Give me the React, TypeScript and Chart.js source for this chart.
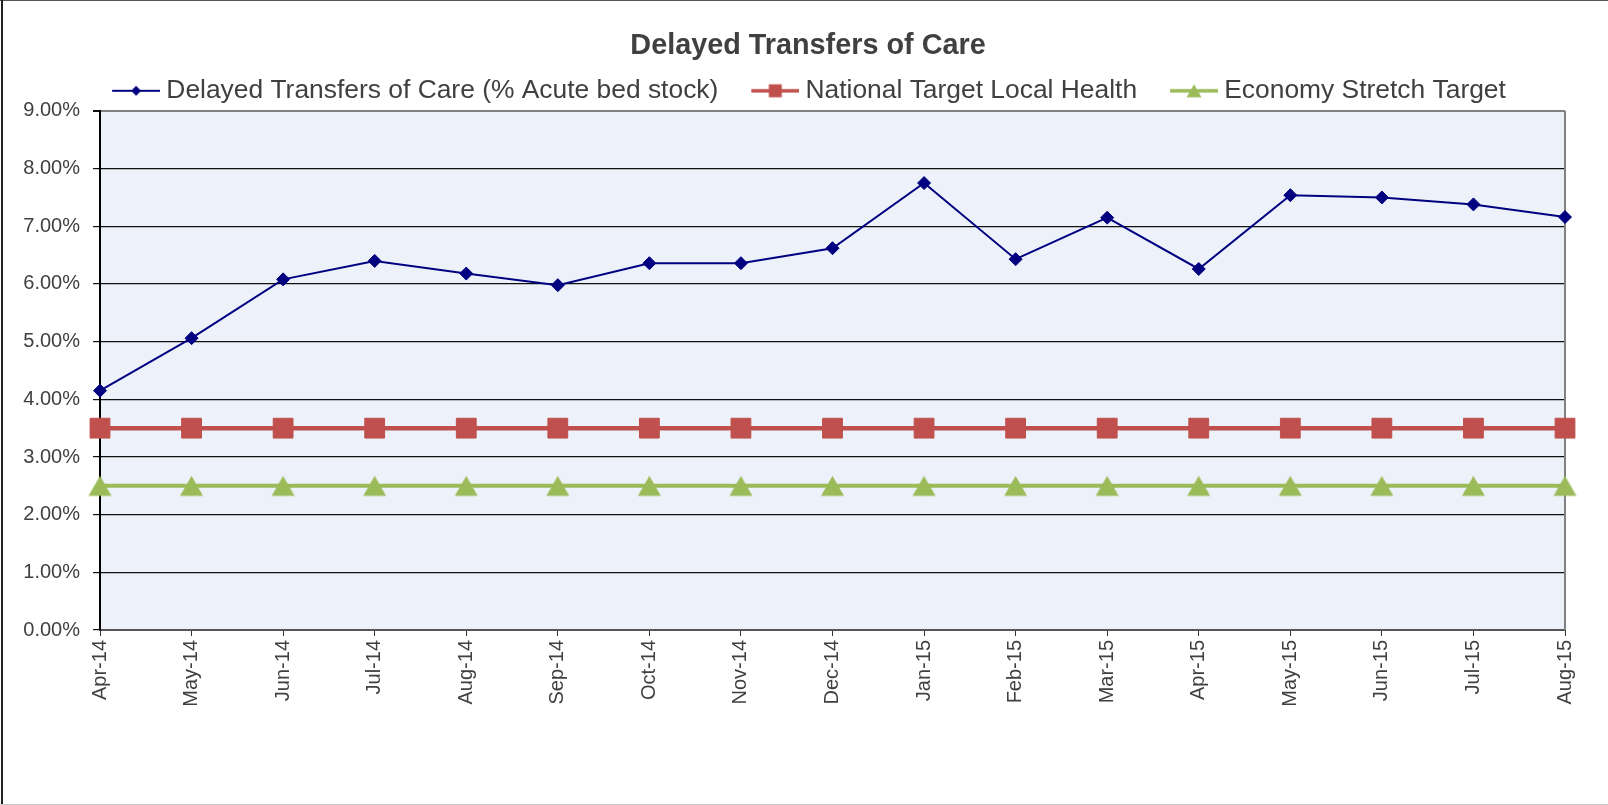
import React, { useEffect, useRef } from 'react';
import { Chart, registerables } from 'chart.js';

Chart.register(...registerables);

const months = [
  'Apr-14', 'May-14', 'Jun-14', 'Jul-14', 'Aug-14', 'Sep-14', 'Oct-14', 'Nov-14', 'Dec-14',
  'Jan-15', 'Feb-15', 'Mar-15', 'Apr-15', 'May-15', 'Jun-15', 'Jul-15', 'Aug-15',
];
const delayedTransfers = [4.15, 5.06, 6.08, 6.40, 6.18, 5.98, 6.36, 6.36, 6.62, 7.75, 6.43, 7.15, 6.26, 7.54, 7.50, 7.38, 7.16];
const nationalTarget = [3.5, 3.5, 3.5, 3.5, 3.5, 3.5, 3.5, 3.5, 3.5, 3.5, 3.5, 3.5, 3.5, 3.5, 3.5, 3.5, 3.5];
const economyTarget = [2.5, 2.5, 2.5, 2.5, 2.5, 2.5, 2.5, 2.5, 2.5, 2.5, 2.5, 2.5, 2.5, 2.5, 2.5, 2.5, 2.5];
const seriesNames = [
  'Delayed Transfers of Care (% Acute bed stock)',
  'National Target Local Health',
  'Economy Stretch Target',
];
const chartTitle = 'Delayed Transfers of Care';

const NAVY = '#000080';
const RED = '#C0504D';
const GREEN = '#9BBB59';
const TEXT = '#404040';
const FONT = "'Liberation Sans', Arial, sans-serif";

function drawShape(ctx: CanvasRenderingContext2D, shape: string, cx: number, cy: number, s: number) {
  ctx.beginPath();
  if (shape === 'diamond') {
    ctx.moveTo(cx, cy - s);
    ctx.lineTo(cx + s, cy);
    ctx.lineTo(cx, cy + s);
    ctx.lineTo(cx - s, cy);
    ctx.closePath();
  } else if (shape === 'square') {
    ctx.rect(cx - s, cy - s, 2 * s, 2 * s);
  } else {
    // triangle centred on its bounding box
    const h = s * 1.75;
    ctx.moveTo(cx, cy - h / 2);
    ctx.lineTo(cx + s, cy + h / 2);
    ctx.lineTo(cx - s, cy + h / 2);
    ctx.closePath();
  }
  ctx.fill();
}

function makeIcon(color: string, lineWidth: number, shape: string, s: number) {
  const c = document.createElement('canvas');
  c.width = 79;
  c.height = 26;
  const ctx = c.getContext('2d')!;
  ctx.strokeStyle = color;
  ctx.lineWidth = lineWidth;
  ctx.beginPath();
  ctx.moveTo(31, 13);
  ctx.lineTo(79, 13);
  ctx.stroke();
  ctx.fillStyle = color;
  drawShape(ctx, shape, 55, 13, s);
  return c;
}

function makeMarker(color: string, shape: string, s: number) {
  const c = document.createElement('canvas');
  const size = Math.ceil(2 * s + 2);
  c.width = size;
  c.height = size;
  const ctx = c.getContext('2d')!;
  ctx.fillStyle = color;
  drawShape(ctx, shape, size / 2, size / 2, s);
  return c;
}

const bgPlugin = {
  id: 'bgPlugin',
  afterLayout(chart: any) {
    if (chart.legend) {
      chart.legend.left -= 11;
      chart.legend.right -= 11;
      chart.legend.top += 3;
      chart.legend.bottom += 3;
    }
  },
  beforeDraw(chart: any) {
    const { ctx, chartArea } = chart;
    ctx.save();
    ctx.fillStyle = '#EDF2FA';
    ctx.fillRect(chartArea.left, chartArea.top, chartArea.right - chartArea.left, chartArea.bottom - chartArea.top);
    ctx.restore();
  },
  beforeDatasetsDraw(chart: any) {
    const { ctx, chartArea } = chart;
    ctx.save();
    ctx.strokeStyle = '#808080';
    ctx.lineWidth = 2;
    ctx.beginPath();
    ctx.moveTo(chartArea.right, chartArea.top);
    ctx.lineTo(chartArea.right, chartArea.bottom);
    ctx.stroke();
    ctx.restore();
  },
  afterDraw(chart: any) {
    const { ctx, width, height } = chart;
    ctx.save();
    ctx.fillStyle = '#555555';
    ctx.fillRect(0, 0, width, 1);
    ctx.fillStyle = '#222222';
    ctx.fillRect(1, 0, 2, height);
    ctx.fillStyle = '#c8c8c8';
    ctx.fillRect(0, height - 1, width, 1);
    ctx.restore();
  },
};

export default function App() {
  const ref = useRef<HTMLCanvasElement>(null);
  useEffect(() => {
    if (!ref.current) return;
    const icons = [
      makeIcon(NAVY, 2, 'diamond', 5),
      makeIcon(RED, 3.5, 'square', 6.5),
      makeIcon(GREEN, 3.5, 'triangle', 7.5),
    ];
    const triangleMarker = makeMarker(GREEN, 'triangle', 11.5);
    const chart = new Chart(ref.current, {
      type: 'line',
      data: {
        labels: months,
        datasets: [
          {
            label: seriesNames[0],
            data: delayedTransfers,
            borderColor: NAVY,
            backgroundColor: NAVY,
            borderWidth: 2,
            pointStyle: 'rectRot',
            pointRadius: 6.5,
            pointBorderWidth: 1,
            tension: 0,
            clip: false as any,
          },
          {
            label: seriesNames[1],
            data: nationalTarget,
            borderColor: RED,
            backgroundColor: RED,
            borderWidth: 4.5,
            pointStyle: 'rect',
            pointRadius: 14,
            pointBorderWidth: 1,
            tension: 0,
            clip: false as any,
          },
          {
            label: seriesNames[2],
            data: economyTarget,
            borderColor: GREEN,
            backgroundColor: GREEN,
            borderWidth: 4,
            pointStyle: triangleMarker as any,
            pointRadius: 11.5,
            tension: 0,
            clip: false as any,
          },
        ],
      },
      options: {
        responsive: false,
        animation: false,
        layout: { padding: { left: 18, right: 10, top: 0, bottom: 100 } },
        plugins: {
          title: {
            display: true,
            text: chartTitle,
            color: TEXT,
            font: { family: FONT, size: 28.8, weight: 'bold', lineHeight: 1.2 },
            padding: { top: 29, bottom: 2 },
          },
          legend: {
            display: true,
            labels: {
              usePointStyle: true,
              pointStyleWidth: 65,
              padding: 9,
              color: TEXT,
              font: { family: FONT, size: 26.4 },
              generateLabels: (c: any) =>
                c.data.datasets.map((ds: any, i: number) => ({
                  text: ds.label,
                  pointStyle: icons[i],
                  datasetIndex: i,
                  hidden: false,
                  fillStyle: ds.borderColor,
                  strokeStyle: ds.borderColor,
                  lineWidth: 0,
                  fontColor: TEXT,
                })),
            },
          },
          tooltip: { enabled: false },
        },
        scales: {
          x: {
            offset: false,
            afterFit: (s: any) => {
              s.height = 75;
              s.paddingLeft = 0;
              s.paddingRight = 43;
            },
            grid: {
              drawOnChartArea: false,
              drawTicks: true,
              tickLength: 6,
              color: '#333333',
              lineWidth: 1,
            },
            border: { color: '#555555', width: 2 },
            ticks: {
              minRotation: 90,
              maxRotation: 90,
              autoSkip: false,
              padding: 4,
              color: TEXT,
              font: { family: FONT, size: 20 },
            },
          },
          y: {
            min: 0,
            max: 9,
            afterFit: (s: any) => {
              s.width = 82;
            },
            grid: {
              color: (ctx: any) => (ctx.tick && ctx.tick.value === 9 ? '#808080' : '#111111'),
              lineWidth: (ctx: any) => (ctx.tick && ctx.tick.value === 9 ? 2 : 1.2),
              tickColor: '#111111',
              tickLength: 7,
            },
            border: { color: '#000000', width: 2 },
            ticks: {
              stepSize: 1,
              padding: 13,
              color: TEXT,
              font: { family: FONT, size: 20 },
              callback: (v: any) => Number(v).toFixed(2) + '%',
            },
          },
        },
      },
      plugins: [bgPlugin],
    });
    return () => chart.destroy();
  }, []);
  return (
    <div style={{ position: 'absolute', left: 0, top: 0, width: 1608, height: 805, background: '#ffffff' }}>
      <canvas ref={ref} width={1608} height={805} style={{ display: 'block' }} />
    </div>
  );
}
